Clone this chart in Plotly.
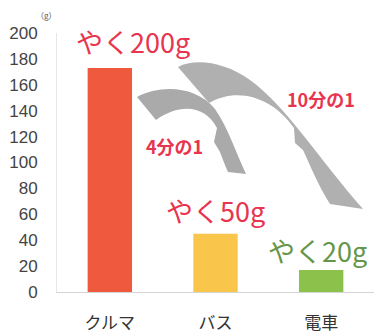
import plotly.graph_objects as go

categories = ["クルマ", "バス", "電車"]
values = [173, 45, 17]
bar_colors = ["#EF5A3E", "#F9C54A", "#8CC14C"]
tick_vals = [0, 20, 40, 60, 80, 100, 120, 140, 160, 180, 200]
value_labels = ["やく200g", "やく50g", "やく20g"]
ratio_labels = ["4分の1", "10分の1"]

W, H = 374, 333
L, R, T, B = 57, 0, 33, 41
PW, PH = W - L - R, H - T - B


def px(x):
    return (x - L) / PW


def py(y):
    return (H - B - y) / PH


def path(points):
    s = ""
    for cmd, *xy in points:
        coords = " ".join(f"{px(xy[j]):.4f},{py(xy[j+1]):.4f}" for j in range(0, len(xy), 2))
        s += f"{cmd} {coords} "
    return s + "Z"


fig = go.Figure()
fig.add_trace(go.Bar(
    x=categories, y=values, marker=dict(color=bar_colors, line=dict(width=0)),
    width=0.42, hoverinfo="skip",
))

big = [
    ("M", 178, 67),
    ("C", 195, 58, 225, 62, 250, 80),
    ("C", 285, 105, 320, 160, 363, 209),
    ("L", 330, 204),
    ("C", 318, 185, 310, 165, 303, 150),
    ("L", 295, 143),
    ("L", 294, 128),
    ("C", 275, 100, 240, 85, 209, 103),
    ("L", 178, 67),
]
small = [
    ("M", 137, 97),
    ("C", 160, 85, 195, 85, 215, 109),
    ("C", 228, 128, 235, 150, 246, 174),
    ("L", 228, 172),
    ("C", 224, 163, 222, 157, 220, 152),
    ("L", 214, 142),
    ("L", 217, 128),
    ("C", 205, 105, 180, 103, 156, 120),
    ("L", 137, 97),
]
shapes = [
    dict(type="path", xref="paper", yref="paper", path=path(big),
         fillcolor="#B0B0B0", line=dict(width=0), layer="above"),
    dict(type="path", xref="paper", yref="paper", path=path(small),
         fillcolor="#AAAAAA", line=dict(width=0), layer="above"),
]

jp = "Noto Sans CJK JP"
ann = []
label_pos = [(133, 41), (215, 210), (317, 250)]
label_cols = ["#E8354F", "#E8354F", "#65964A"]
for t, (x, y), c in zip(value_labels, label_pos, label_cols):
    ann.append(dict(text=t, x=px(x), y=py(y), xref="paper", yref="paper",
                    showarrow=False, font=dict(family=jp, size=27, color=c),
                    xanchor="center", yanchor="middle"))
for t, (x, y) in zip(ratio_labels, [(174, 146), (321, 99)]):
    ann.append(dict(text="<b>" + t + "</b>", x=px(x), y=py(y), xref="paper", yref="paper",
                    showarrow=False, font=dict(family=jp, size=18, color="#E8354F"),
                    xanchor="center", yanchor="middle"))
ann.append(dict(text="（g）", x=px(46), y=py(16), xref="paper", yref="paper",
                showarrow=False, font=dict(family=jp, size=8, color="#555"),
                xanchor="center", yanchor="middle"))

fig.update_layout(
    width=W, height=H, margin=dict(l=L, r=R, t=T, b=B),
    paper_bgcolor="white", plot_bgcolor="white",
    showlegend=False, shapes=shapes, annotations=ann,
    xaxis=dict(range=[-0.5, 2.5], showgrid=False, showline=True, linecolor="#D4D4D4",
               linewidth=1, ticks="", tickfont=dict(family=jp, size=17, color="#333"),
               ticklabelstandoff=16, zeroline=False),
    yaxis=dict(range=[0, 200], tickvals=tick_vals, showgrid=False, showline=True,
               linecolor="#E6E6EC", linewidth=1, ticks="", zeroline=False,
               tickfont=dict(family="Liberation Sans, Arial", size=17, color="#444"),
               ticklabelstandoff=15),
    bargap=0.58,
)

fig.write_html("out.html", config={"displayModeBar": False},
               post_script="document.body.style.margin='0';")
